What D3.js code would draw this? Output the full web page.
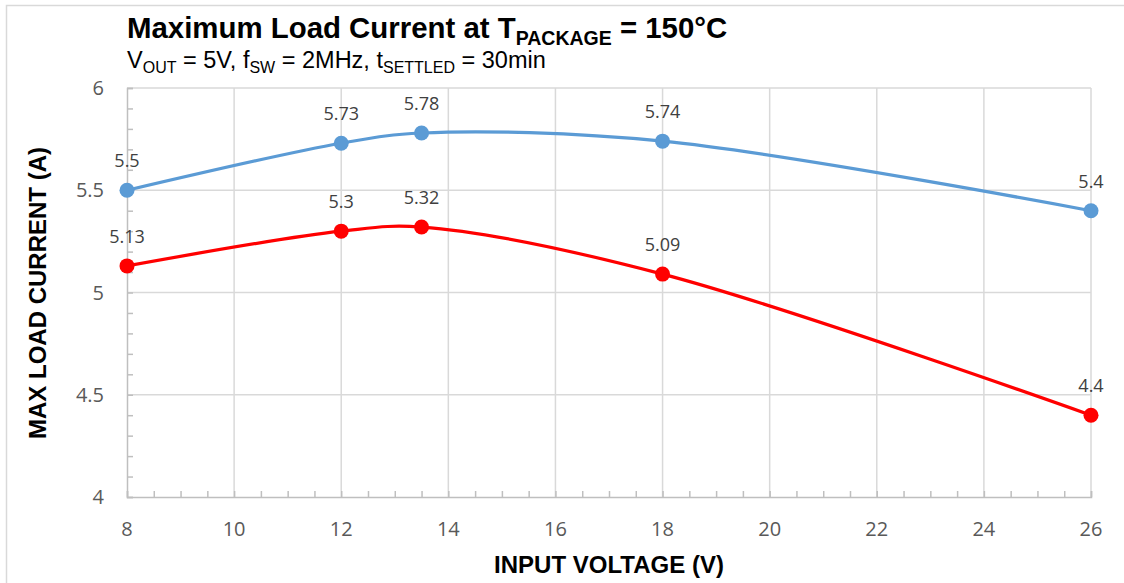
<!DOCTYPE html>
<html><head><meta charset="utf-8">
<script src="https://cdn.jsdelivr.net/npm/d3@7"></script>
<style>body{margin:0;background:#fff;} svg{display:block;}</style>
</head><body>
<svg id="c" width="1124" height="583"></svg>
<script>
const inputVoltage = [8, 12, 13.5, 18, 26];
const seriesBlue = [5.5, 5.73, 5.78, 5.74, 5.4];
const seriesRed = [5.13, 5.3, 5.32, 5.09, 4.4];
const xTicks = [8, 10, 12, 14, 16, 18, 20, 22, 24, 26];
const yTicks = [4, 4.5, 5, 5.5, 6];
const yTickLabels = ["4", "4.5", "5", "5.5", "6"];

const svg = d3.select("#c");
const W = 1124, H = 583;
const x = d3.scaleLinear().domain([8, 26]).range([127, 1091]);
const y = d3.scaleLinear().domain([4, 6]).range([497, 88]);

// outer border
svg.append("rect").attr("x", 6.5).attr("y", 5.5).attr("width", W + 10).attr("height", H + 10)
  .attr("fill", "none").attr("stroke", "#D9D9D9").attr("stroke-width", 1.5);

const grid = svg.append("g");
grid.selectAll("line.v").data(xTicks.slice(1)).join("line")
  .attr("x1", d => x(d)).attr("x2", d => x(d)).attr("y1", y(6)).attr("y2", y(4))
  .attr("stroke", "#D9D9D9").attr("stroke-width", 1.5);
grid.selectAll("line.h").data(yTicks.slice(1)).join("line")
  .attr("x1", x(8)).attr("x2", x(26)).attr("y1", d => y(d)).attr("y2", d => y(d))
  .attr("stroke", "#D9D9D9").attr("stroke-width", 1.5);

// axes with minor inward ticks
const axisColor = "#BFBFBF";
const yMinor = d3.range(40, 61).map(v => v / 10);
const xMinor = d3.range(16, 53).map(v => v / 2);
const yAx = svg.append("g").attr("transform", `translate(${x(8)},0)`)
  .call(d3.axisRight(y).tickValues(yMinor).tickSize(6).tickFormat(""));
yAx.select(".domain").attr("stroke", axisColor).attr("stroke-width", 1.5);
yAx.selectAll(".tick line").attr("stroke", axisColor).attr("stroke-width", 1.5);
const xAx = svg.append("g").attr("transform", `translate(0,${y(4)})`)
  .call(d3.axisTop(x).tickValues(xMinor).tickSize(6).tickFormat(""));
xAx.select(".domain").attr("stroke", axisColor).attr("stroke-width", 1.5);
xAx.selectAll(".tick line").attr("stroke", axisColor).attr("stroke-width", 1.5);

// tick labels
const tickFont = "'Open Sans', sans-serif";
svg.append("g").selectAll("text").data(yTicks).join("text")
  .attr("x", 104).attr("y", d => y(d) + 7).attr("text-anchor", "end")
  .attr("font-family", tickFont).attr("font-size", 20).attr("fill", "#595959")
  .text((d, i) => yTickLabels[i]);
svg.append("g").selectAll("text").data(xTicks).join("text")
  .attr("x", d => x(d)).attr("y", 536).attr("text-anchor", "middle")
  .attr("font-family", tickFont).attr("font-size", 20).attr("fill", "#595959")
  .text(d => d);

// series
const line = d3.line().x(d => x(d[0])).y(d => y(d[1])).curve(d3.curveCatmullRom.alpha(0.5));
const series = [
  { vals: seriesBlue, color: "#5B9BD5" },
  { vals: seriesRed, color: "#FF0000" }
];
series.forEach(s => {
  const pts = inputVoltage.map((v, i) => [v, s.vals[i]]);
  svg.append("path").datum(pts).attr("d", line).attr("fill", "none")
    .attr("stroke", s.color).attr("stroke-width", 3.2);
  svg.append("g").selectAll("circle").data(pts).join("circle")
    .attr("cx", d => x(d[0])).attr("cy", d => y(d[1])).attr("r", 7.5).attr("fill", s.color);
  svg.append("g").selectAll("text").data(pts).join("text")
    .attr("x", d => x(d[0])).attr("y", d => y(d[1]) - 23).attr("text-anchor", "middle")
    .attr("font-family", tickFont).attr("font-size", 18).attr("fill", "#404040")
    .text(d => d[1]);
});

// titles
const title = svg.append("text").attr("x", 127).attr("y", 38)
  .attr("font-family", "'Liberation Sans', Arial, sans-serif").attr("font-weight", "bold")
  .attr("font-size", 29.4).attr("fill", "#000");
title.append("tspan").text("Maximum Load Current at T");
title.append("tspan").attr("font-size", 19.5).attr("dy", 7).text("PACKAGE");
title.append("tspan").attr("dy", -7).text(" = 150°C");

const sub = svg.append("text").attr("x", 127).attr("y", 68)
  .attr("font-family", "'Liberation Sans', Arial, sans-serif").attr("font-size", 23.5).attr("fill", "#000");
sub.append("tspan").text("V");
sub.append("tspan").attr("font-size", 16).attr("dy", 5).text("OUT");
sub.append("tspan").attr("dy", -5).text(" = 5V, f");
sub.append("tspan").attr("font-size", 16).attr("dy", 5).text("SW");
sub.append("tspan").attr("dy", -5).text(" = 2MHz, t");
sub.append("tspan").attr("font-size", 16).attr("dy", 5).text("SETTLED");
sub.append("tspan").attr("dy", -5).text(" = 30min");

svg.append("text").attr("x", 609).attr("y", 573).attr("text-anchor", "middle")
  .attr("font-family", "'Liberation Sans', Arial, sans-serif").attr("font-weight", "bold")
  .attr("font-size", 24).attr("fill", "#000").text("INPUT VOLTAGE (V)");
svg.append("text").attr("transform", "translate(46,293) rotate(-90)").attr("text-anchor", "middle")
  .attr("font-family", "'Liberation Sans', Arial, sans-serif").attr("font-weight", "bold")
  .attr("font-size", 24).attr("fill", "#000").text("MAX LOAD CURRENT (A)");
</script>
</body></html>
